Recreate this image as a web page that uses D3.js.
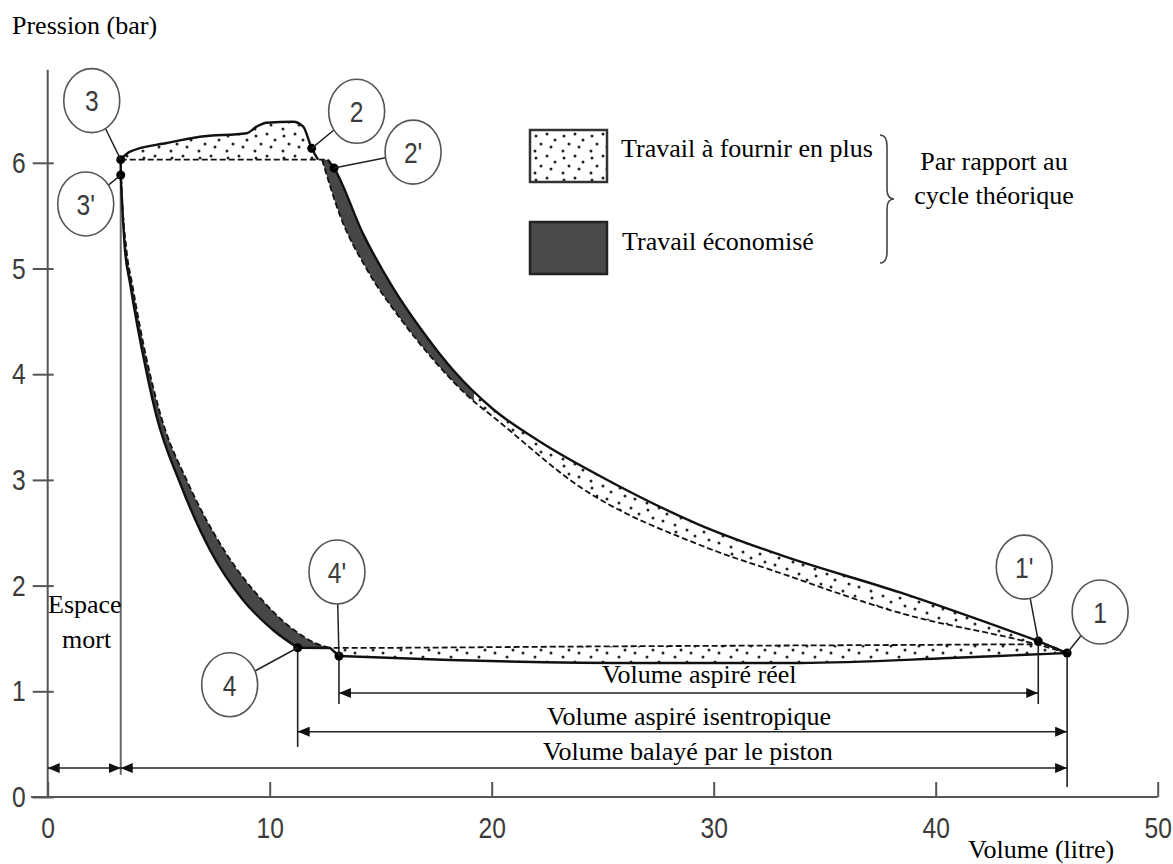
<!DOCTYPE html>
<html>
<head>
<meta charset="utf-8">
<script src="https://cdn.jsdelivr.net/npm/d3@7"></script>
<style>
body { margin: 0; background: #fff; }
svg { display: block; }
.serif { font-family: "Liberation Serif", "Times New Roman", serif; font-size: 26px; fill: #000; }
.narrow { font-family: "Liberation Sans", Arial, sans-serif; font-size: 30px; fill: #3a3a3a; }
</style>
</head>
<body>
<svg width="1173" height="864"></svg>
<script>
// axis ticks
var xTicks = [0, 10, 20, 30, 40, 50];
var yTicks = [0, 1, 2, 3, 4, 5, 6];

// cycle points [volume (l), pressure (bar)]
var pointNames = ["1", "1'", "2", "2'", "3", "3'", "4", "4'"];
var pointV = [45.92, 44.62, 11.89, 12.9, 3.29, 3.29, 11.26, 13.12];
var pointP = [1.362, 1.475, 6.137, 5.95, 6.03, 5.885, 1.412, 1.334];

// real compression (solid) and isentropic compression (dashed)
var compReal = [[12.62, 6.03], [12.9, 5.95], [14.2, 5.33], [15.55, 4.82], [16.91, 4.40], [18.3, 4.03],
    [20.0, 3.68], [22.18, 3.36], [25.46, 2.971], [29.38, 2.573], [32.99, 2.29], [38.39, 1.935], [44.62, 1.475]];
var compTheo = [[12.36, 6.03], [13.17, 5.50], [14.38, 4.99], [15.87, 4.53], [17.36, 4.14], [18.89, 3.80],
    [20.24, 3.567], [23.98, 2.933], [29.38, 2.384], [32.99, 2.119], [38.39, 1.741], [44.62, 1.44], [45.92, 1.362]];

// discharge: real (bumpy) and theoretical (dashed)
var dischReal = [[3.29, 6.033], [3.71, 6.105], [5.36, 6.187], [6.86, 6.247], [8.96, 6.279], [9.41, 6.342],
    [9.86, 6.379], [11.06, 6.389], [11.51, 6.342], [11.89, 6.137], [12.18, 6.03]];
var dischTheo = [[3.29, 6.03], [12.62, 6.03]];

// expansion: real (solid) and theoretical (dashed)
var expReal = [[3.288, 5.885], [3.48, 5.175], [3.707, 4.863], [4.459, 4.012], [4.91, 3.595], [5.959, 2.971],
    [7.311, 2.337], [8.797, 1.864], [10.149, 1.58], [11.26, 1.412]];
var expTheo = [[3.288, 6.026], [3.311, 5.866], [3.55, 5.175], [3.797, 4.863], [4.595, 4.012], [5.113, 3.595],
    [6.32, 2.971], [7.941, 2.337], [9.653, 1.864], [11.095, 1.58], [12.041, 1.457], [12.716, 1.41]];

// suction: theoretical (dashed) and real (solid)
var suctTheo = [[11.26, 1.412], [12.72, 1.41], [25, 1.425], [40, 1.44], [44.62, 1.445], [45.92, 1.362]];
var suctReal = [[13.12, 1.334], [18.12, 1.296], [27.13, 1.268], [33.9, 1.268], [40.65, 1.315], [43.8, 1.343], [45.92, 1.362]];

// volume dimension lines: from point, to point, level (bar)
var dimFrom = ["0", "3", "4", "4'"];
var dimTo = ["3", "1", "1", "1'"];
var dimLevel = [0.274, 0.274, 0.618, 0.984];

var svg = d3.select("svg");
var x = d3.scaleLinear().domain([0, 50]).range([47.7, 1157.7]);
var y = d3.scaleLinear().domain([0, 7]).range([797, 57.1]);
var squeeze = 0.82; // condensed look of the numbers

var pts = {};
pointNames.forEach(function (n, i) { pts[n] = [pointV[i], pointP[i]]; });
pts["0"] = [0, 0];

var defs = svg.append("defs");
var pat = defs.append("pattern").attr("id", "dots")
    .attr("patternUnits", "userSpaceOnUse").attr("width", 28).attr("height", 22);
[[4, 4], [15, 2], [23, 8], [9, 12], [19, 15], [3, 19]].forEach(function (d) {
    pat.append("circle").attr("cx", d[0]).attr("cy", d[1]).attr("r", 1.5).attr("fill", "#222");
});
defs.append("marker").attr("id", "arrow")
    .attr("viewBox", "0 0 12 10").attr("refX", 12).attr("refY", 5)
    .attr("markerWidth", 12).attr("markerHeight", 10)
    .attr("markerUnits", "userSpaceOnUse").attr("orient", "auto-start-reverse")
    .append("path").attr("d", "M0,0L12,5L0,10Z").attr("fill", "#111");

var line = d3.line().x(function (d) { return x(d[0]); }).y(function (d) { return y(d[1]); })
    .curve(d3.curveMonotoneX);
var straight = d3.line().x(function (d) { return x(d[0]); }).y(function (d) { return y(d[1]); });

function band(a, b) {
    return line(a) + line(b.slice().reverse()).replace(/^M/, "L") + "Z";
}

// axes
var gx = svg.append("g").attr("transform", "translate(0," + y(0) + ")")
    .call(d3.axisBottom(x).tickValues(xTicks).tickSizeInner(-15).tickSizeOuter(0).tickPadding(20));
gx.select(".domain").remove();
gx.selectAll("line").attr("stroke", "#555").attr("stroke-width", 2);
gx.selectAll("text").attr("class", "narrow").attr("fill", null)
    .attr("transform", "scale(" + squeeze + ",1)");

var gy = svg.append("g").attr("transform", "translate(" + x(0) + ",0)")
    .call(d3.axisLeft(y).tickValues(yTicks).tickFormat(d3.format("d")).tickSizeInner(15).tickSizeOuter(0).tickPadding(7));
gy.select(".domain").remove();
gy.selectAll("line").attr("x2", -15).attr("x1", 6).attr("stroke", "#555").attr("stroke-width", 2);
gy.selectAll("text").attr("class", "narrow").attr("fill", null)
    .attr("x", -22 / squeeze).attr("transform", "scale(" + squeeze + ",1)");
gx.attr("font-size", null).attr("font-family", null);
gy.attr("font-size", null).attr("font-family", null);

svg.append("line").attr("x1", x(0)).attr("x2", x(0)).attr("y1", y(6.88)).attr("y2", y(-0.01))
    .attr("stroke", "#555").attr("stroke-width", 2);
svg.append("line").attr("x1", x(-0.75)).attr("x2", x(50)).attr("y1", y(0)).attr("y2", y(0))
    .attr("stroke", "#555").attr("stroke-width", 2);

svg.append("text").attr("class", "serif").attr("x", 12).attr("y", 34).text("Pression (bar)");
svg.append("text").attr("class", "serif").attr("x", 968).attr("y", 858).text("Volume (litre)");

// dead space vertical
svg.append("line").attr("x1", x(pts["3'"][0])).attr("x2", x(pts["3'"][0]))
    .attr("y1", y(pts["3'"][1])).attr("y2", y(0.21)).attr("stroke", "#666").attr("stroke-width", 2);

// filled areas
var clipL = defs.append("clipPath").attr("id", "clipL");
clipL.append("rect").attr("x", 0).attr("y", 0).attr("width", x(19.2)).attr("height", 864);
var clipR = defs.append("clipPath").attr("id", "clipR");
clipR.append("rect").attr("x", x(19.2)).attr("y", 0).attr("width", 1173).attr("height", 864);

var compBand = band(compReal, compTheo);
svg.append("path").attr("d", compBand).attr("fill", "#474747").attr("clip-path", "url(#clipL)");
svg.append("path").attr("d", compBand).attr("fill", "url(#dots)").attr("clip-path", "url(#clipR)");
svg.append("path").attr("d", band(expReal, expTheo)).attr("fill", "#474747");
svg.append("path").attr("d", band(dischReal, dischTheo)).attr("fill", "url(#dots)");
svg.append("path").attr("d", band(suctReal, suctTheo.filter(function (d) { return d[0] >= 12.7; })))
    .attr("fill", "url(#dots)");

// curves
function solid(data, gen) {
    svg.append("path").attr("d", (gen || line)(data))
        .attr("fill", "none").attr("stroke", "#111").attr("stroke-width", 2.4).attr("stroke-linejoin", "round");
}
function dashed(data) {
    svg.append("path").attr("d", line(data))
        .attr("fill", "none").attr("stroke", "#111").attr("stroke-width", 1.8).attr("stroke-dasharray", "6,3");
}
dashed(compTheo);
dashed(dischTheo);
dashed(expTheo);
dashed(suctTheo);
solid(compReal);
solid(dischReal);
solid(expReal);
solid(suctReal);
solid([pts["3"], pts["3'"]], straight);
solid([pts["1'"], pts["1"]], straight);
solid([pts["4"], [12.72, 1.41], pts["4'"]], straight);

// extension lines below points
var ext = [["4", 0.473], ["4'", 0.88], ["1'", 0.88], ["1", 0.095]];
ext.forEach(function (e) {
    var p = pts[e[0]];
    svg.append("line").attr("x1", x(p[0])).attr("x2", x(p[0])).attr("y1", y(p[1])).attr("y2", y(e[1]))
        .attr("stroke", "#222").attr("stroke-width", 1.6);
});

// dimension arrows
dimFrom.forEach(function (f, i) {
    svg.append("line").attr("x1", x(pts[f][0])).attr("x2", x(pts[dimTo[i]][0]))
        .attr("y1", y(dimLevel[i])).attr("y2", y(dimLevel[i]))
        .attr("stroke", "#222").attr("stroke-width", 1.6)
        .attr("marker-start", "url(#arrow)").attr("marker-end", "url(#arrow)");
});
svg.append("text").attr("class", "serif").attr("x", 602).attr("y", 683).text("Volume aspiré réel");
svg.append("text").attr("class", "serif").attr("x", 547).attr("y", 725).text("Volume aspiré isentropique");
svg.append("text").attr("class", "serif").attr("x", 543).attr("y", 760).text("Volume balayé par le piston");
svg.append("text").attr("class", "serif").attr("x", 48).attr("y", 613).text("Espace");
svg.append("text").attr("class", "serif").attr("x", 62).attr("y", 648).text("mort");

// point markers
pointNames.forEach(function (n, i) {
    svg.append("circle").attr("cx", x(pointV[i])).attr("cy", y(pointP[i])).attr("r", 4.5).attr("fill", "#000");
});

// circled labels (offset of label centre from point, px)
var labelOffset = { "1": [33, -41], "1'": [-14, -74], "2": [45, -37], "2'": [79, -16],
    "3": [-29, -59], "3'": [-35, 29], "4": [-68, 37], "4'": [-2, -84] };
var rx = 28, ry = 32;
pointNames.forEach(function (n, i) {
    var px = x(pointV[i]), py = y(pointP[i]);
    var cx = px + labelOffset[n][0], cy = py + labelOffset[n][1];
    var dx = px - cx, dy = py - cy;
    var t = 1 / Math.sqrt((dx * dx) / (rx * rx) + (dy * dy) / (ry * ry));
    svg.append("line").attr("x1", cx + dx * t).attr("y1", cy + dy * t).attr("x2", px).attr("y2", py)
        .attr("stroke", "#222").attr("stroke-width", 1.5);
    svg.append("ellipse").attr("cx", cx).attr("cy", cy).attr("rx", rx).attr("ry", ry)
        .attr("fill", "#fff").attr("stroke", "#555").attr("stroke-width", 1.6);
    svg.append("g").attr("transform", "translate(" + cx + "," + cy + ") scale(" + squeeze + ",1)")
        .append("text").attr("class", "narrow").attr("dy", "0.36em")
        .attr("text-anchor", "middle").text(n);
});

// legend
svg.append("rect").attr("x", 530).attr("y", 130).attr("width", 77).attr("height", 52)
    .attr("fill", "url(#dots)").attr("stroke", "#333").attr("stroke-width", 2.5);
svg.append("rect").attr("x", 530).attr("y", 222).attr("width", 77).attr("height", 52)
    .attr("fill", "#4a4a4a").attr("stroke", "#222").attr("stroke-width", 2.5);
svg.append("text").attr("class", "serif").attr("x", 621).attr("y", 157).text("Travail à fournir en plus");
svg.append("text").attr("class", "serif").attr("x", 622).attr("y", 250).text("Travail économisé");
svg.append("path")
    .attr("d", "M880,135Q887,135 887,146L887,189Q887,199 894,199Q887,199 887,209L887,252Q887,263 880,263")
    .attr("fill", "none").attr("stroke", "#444").attr("stroke-width", 1.6);
svg.append("text").attr("class", "serif").attr("x", 994).attr("y", 170).attr("text-anchor", "middle").text("Par rapport au");
svg.append("text").attr("class", "serif").attr("x", 994).attr("y", 204).attr("text-anchor", "middle").text("cycle théorique");
</script>
</body>
</html>
